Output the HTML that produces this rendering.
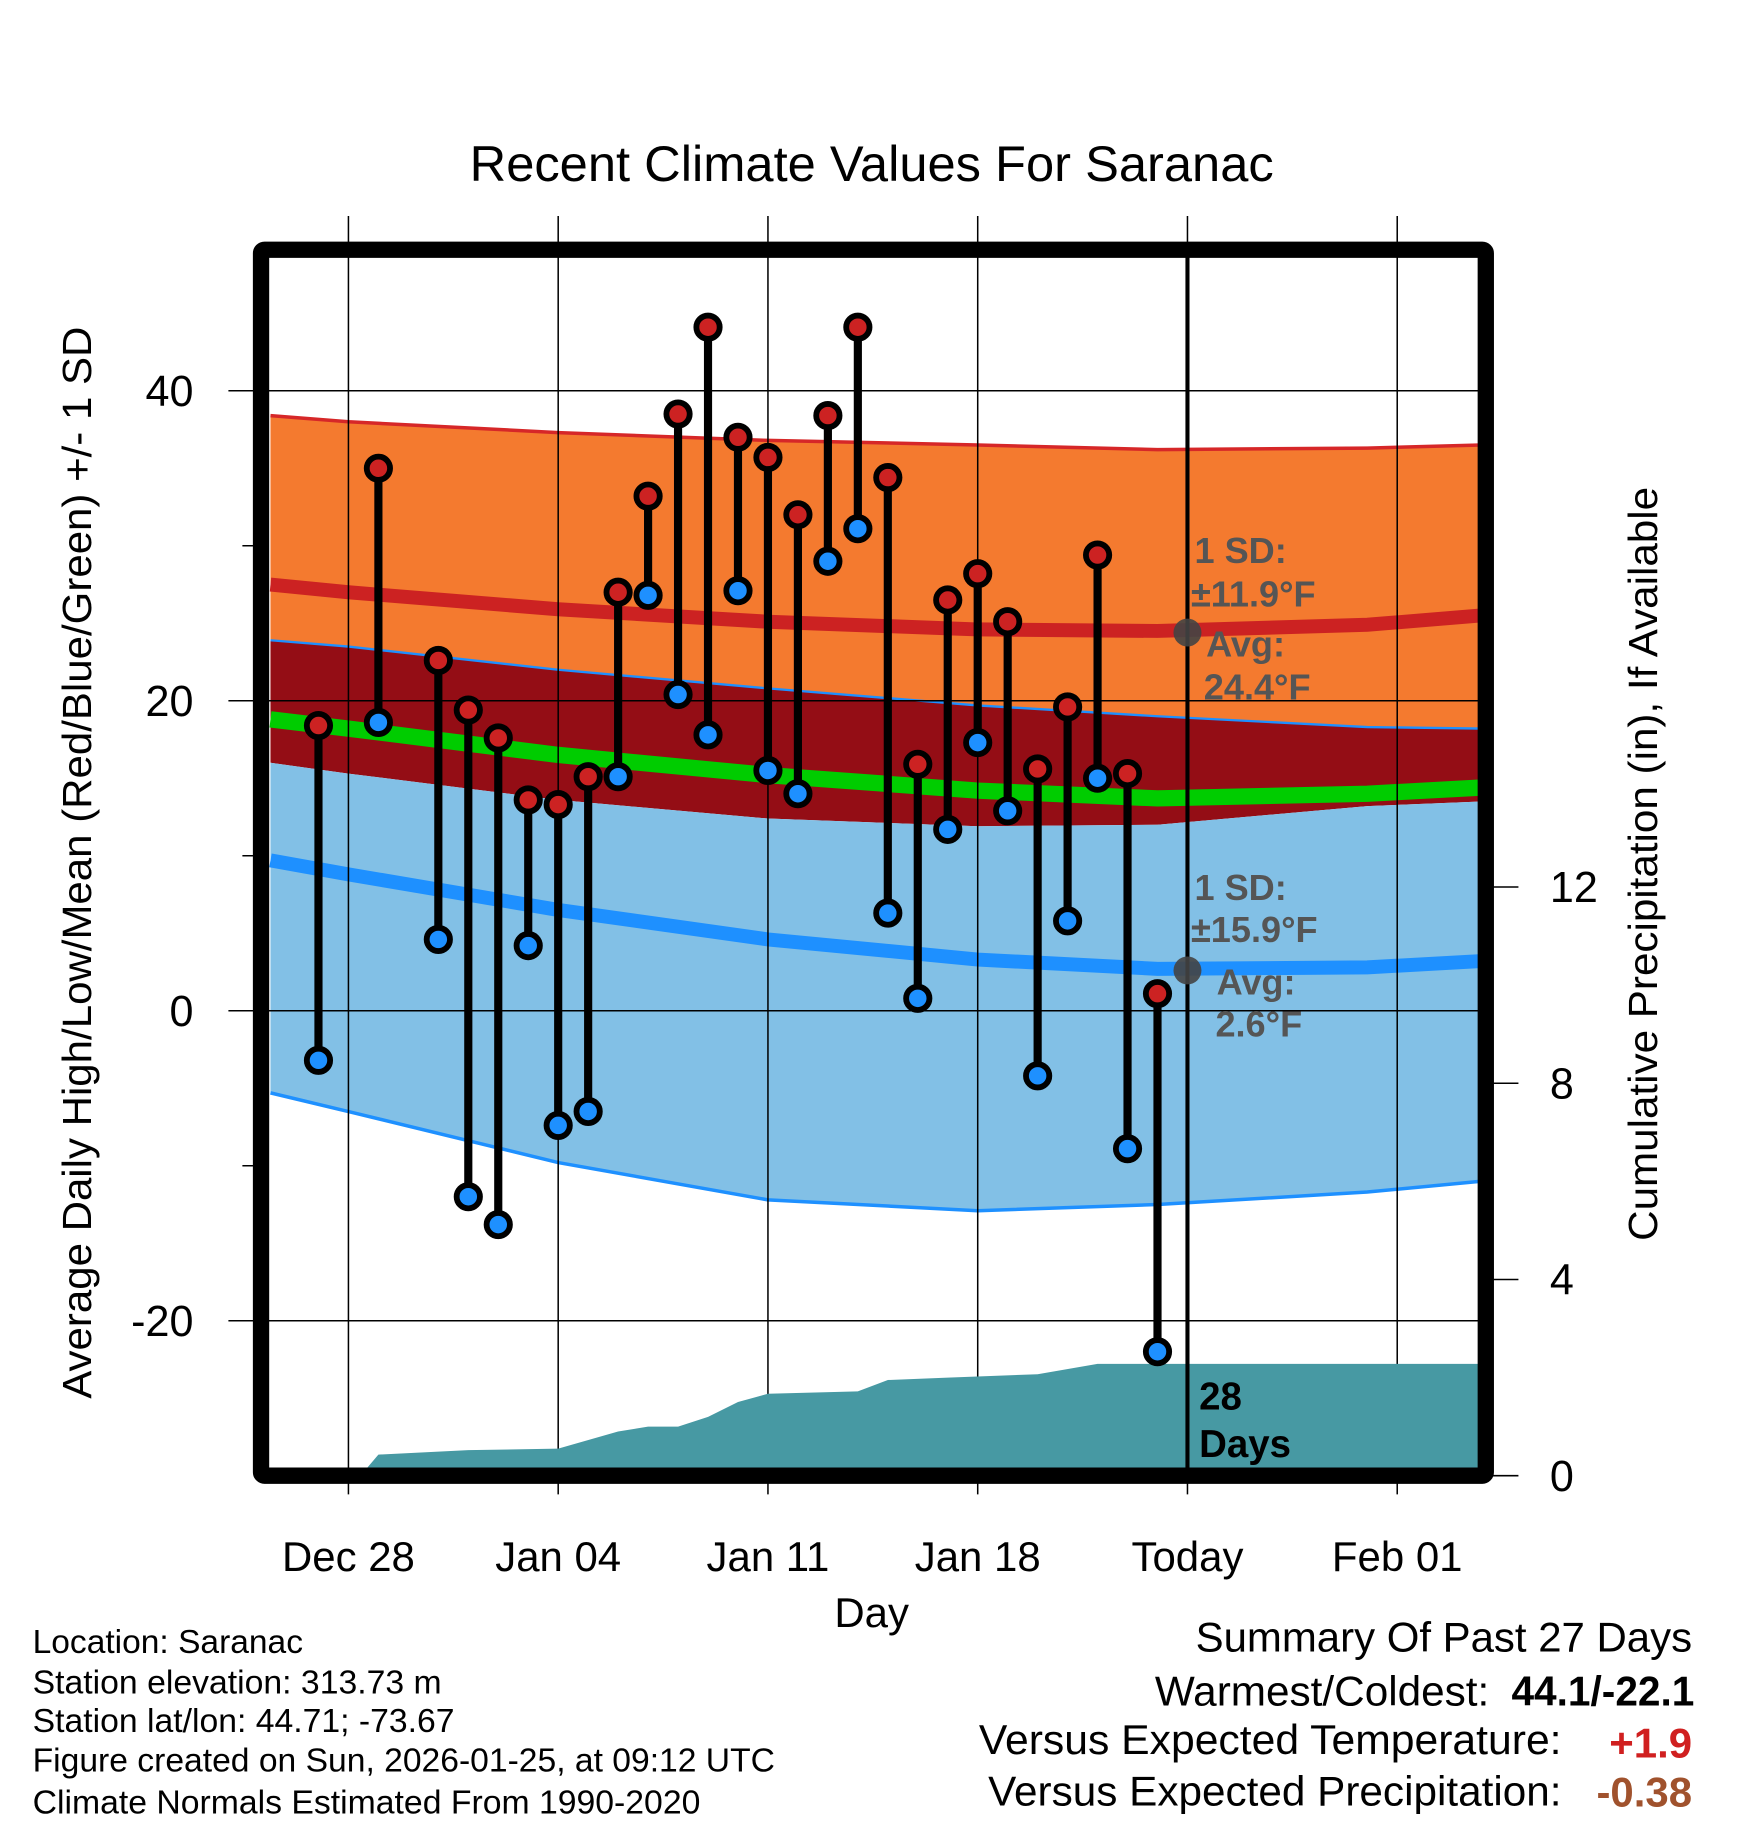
<!DOCTYPE html>
<html><head><meta charset="utf-8"><style>
html,body{margin:0;padding:0;background:#fff}
svg{display:block}
text{font-family:"Liberation Sans",Arial,sans-serif}
</style></head><body>
<svg id="chart" width="1748" height="1828" viewBox="0 0 1500 1568" xmlns="http://www.w3.org/2000/svg">
<defs><clipPath id="plotclip"><rect x="224" y="214" width="1051" height="1052"/></clipPath></defs>
<g id="bands" clip-path="url(#plotclip)"></g>
<g id="grid"></g>
<g id="precip" clip-path="url(#plotclip)"></g>
<g id="marks"></g>
<rect x="224" y="214" width="1051" height="1052" fill="none" stroke="#000" stroke-width="14" rx="3"/>
<text x="748" y="155" font-size="43" text-anchor="middle" textLength="690" lengthAdjust="spacingAndGlyphs">Recent Climate Values For Saranac</text>
<text transform="translate(78,740) rotate(-90)" font-size="35" text-anchor="middle" textLength="920" lengthAdjust="spacingAndGlyphs">Average Daily High/Low/Mean (Red/Blue/Green) +/- 1 SD</text>
<text transform="translate(1422,741) rotate(-90)" font-size="35" text-anchor="middle" textLength="647" lengthAdjust="spacingAndGlyphs">Cumulative Precipitation (in), If Available</text>
<text x="748" y="1396" font-size="36" text-anchor="middle">Day</text>
<g fill="#555" font-weight="bold" font-size="31">
<text x="1025" y="483">1 SD:</text><text x="1022" y="520">±11.9°F</text>
<text x="1035" y="563">Avg:</text><text x="1033" y="600">24.4°F</text></g>
<g fill="#555" font-weight="bold" font-size="31">
<text x="1025" y="772">1 SD:</text><text x="1022" y="808">±15.9°F</text>
<text x="1044" y="853">Avg:</text><text x="1043" y="889">2.6°F</text></g>
<g font-weight="bold" font-size="33">
<text x="1029" y="1209">28</text><text x="1029" y="1250">Days</text></g>
<g font-size="29">
<text x="28" y="1418" textLength="232" lengthAdjust="spacingAndGlyphs">Location: Saranac</text>
<text x="28" y="1453" textLength="351" lengthAdjust="spacingAndGlyphs">Station elevation: 313.73 m</text>
<text x="28" y="1486" textLength="362" lengthAdjust="spacingAndGlyphs">Station lat/lon: 44.71; -73.67</text>
<text x="28" y="1520" textLength="637" lengthAdjust="spacingAndGlyphs">Figure created on Sun, 2026-01-25, at 09:12 UTC</text>
<text x="28" y="1556" textLength="573" lengthAdjust="spacingAndGlyphs">Climate Normals Estimated From 1990-2020</text></g>
<g font-size="36">
<text x="1452" y="1417" text-anchor="end" textLength="426" lengthAdjust="spacingAndGlyphs">Summary Of Past 27 Days</text>
<text x="1278" y="1463" text-anchor="end" textLength="287" lengthAdjust="spacingAndGlyphs">Warmest/Coldest:</text>
<text x="1454" y="1463" text-anchor="end" font-weight="bold" textLength="157" lengthAdjust="spacingAndGlyphs">44.1/-22.1</text>
<text x="1340" y="1505" text-anchor="end" textLength="500" lengthAdjust="spacingAndGlyphs">Versus Expected Temperature:</text>
<text x="1452" y="1508" text-anchor="end" font-weight="bold" fill="#d02020">+1.9</text>
<text x="1340" y="1549" text-anchor="end" textLength="492" lengthAdjust="spacingAndGlyphs">Versus Expected Precipitation:</text>
<text x="1452" y="1550" text-anchor="end" font-weight="bold" fill="#a0522d">-0.38</text></g>
</svg>
<script>
const dayIdx=[-1,1,3,4,5,6,7,8,9,10,11,12,13,14,15,16,17,18,19,20,21,22,23,24,25,26,27];
const highs=[18.4,35.0,22.6,19.4,17.6,13.6,13.3,15.1,27.0,33.2,38.5,44.1,37.0,35.7,32.0,38.4,44.1,34.4,15.9,26.5,28.2,25.1,15.6,19.6,29.4,15.3,1.1];
const lows=[-3.2,18.6,4.6,-12.0,-13.8,4.2,-7.4,-6.5,15.1,26.8,20.4,17.8,27.1,15.5,14.0,29.0,31.1,6.3,0.8,11.7,17.3,12.9,-4.2,5.8,15.0,-8.9,-22.0];
const bandDays=[-2.6,0,7,14,21,27,34,37.8];
const highSDTop=[38.4,38.0,37.3,36.8,36.5,36.2,36.3,36.5];
const avgHigh=[27.5,27.0,25.9,25.1,24.6,24.5,24.9,25.5];
const highSDBottom=[23.9,23.5,22.0,20.8,19.7,19.0,18.3,18.2];
const avgMean=[18.8,18.2,16.5,15.2,14.2,13.7,14.0,14.4];
const lowSDTop=[16.0,15.3,13.6,12.4,11.9,12.0,13.2,13.5];
const avgLow=[9.7,8.8,6.5,4.6,3.3,2.7,2.8,3.2];
const lowSDBottom=[-5.3,-6.5,-9.8,-12.2,-12.9,-12.5,-11.7,-11.0];
const precipDays=[-2.6,0.4,1,4,7,9,10,11,12,13,14,17,18,20,23,25,37.8];
const precipCum=[0,0,0.43,0.52,0.55,0.9,1.0,1.0,1.2,1.5,1.67,1.72,1.95,2.0,2.07,2.28,2.28];
const yTicks=[40,20,0,-20];
const yMinor=[30,10,-10];
const y2Ticks=[0,4,8,12];
const xTickDays=[0,7,14,21,28,35];
const xTickLabels=["Dec 28","Jan 04","Jan 11","Jan 18","Today","Feb 01"];

const NS="http://www.w3.org/2000/svg";
const X=d=>299+d*25.714;
const Y=v=>867-v*13.3;
const Y2=p=>1266-p*42.1;
function mk(tag,attrs,parent){const e=document.createElementNS(NS,tag);for(const k in attrs)e.setAttribute(k,attrs[k]);parent.appendChild(e);return e;}
const bands=document.getElementById('bands'),grid=document.getElementById('grid'),precip=document.getElementById('precip'),marks=document.getElementById('marks'),svg=document.getElementById('chart');
function pts(arr){return bandDays.map((d,i)=>X(d).toFixed(1)+','+Y(arr[i]).toFixed(1));}
function area(top,bot,fill,name){
  const p=pts(top).concat(pts(bot).reverse()).join(' ');
  const e=mk('polygon',{points:p,fill:fill},bands);
  
  
}
function line(arr,col,w,name){
  const e=mk('polyline',{points:pts(arr).join(' '),fill:'none',stroke:col,'stroke-width':w},bands);
  
  
}
area(highSDTop,highSDBottom,'#f47a2f','high-sd-band');
area(highSDBottom,lowSDTop,'#940d15','overlap-band');
area(lowSDTop,lowSDBottom,'#82c0e6','low-sd-band');
line(highSDTop,'#d62728',3,'high-sd-top-line');
line(avgHigh,'#cc2222',12,'avg-high-line');
line(highSDBottom,'#1e90ff',2,'high-sd-bottom-line');
line(avgMean,'#00cc00',14,'avg-mean-line');
line(avgLow,'#1e90ff',12,'avg-low-line');
line(lowSDBottom,'#1e90ff',3,'low-sd-bottom-line');

xTickDays.forEach((d,i)=>{
  const l=mk('line',{x1:X(d),x2:X(d),y1:185,y2:1282,stroke:'#000','stroke-width':1.3},grid);
  
  
  const t=mk('text',{x:X(d),y:1348,'font-size':36,'text-anchor':'middle'},svg);
  t.textContent=xTickLabels[i];
  
  
});
yTicks.forEach(v=>{
  const l=mk('line',{x1:196,x2:1275,y1:Y(v),y2:Y(v),stroke:'#000','stroke-width':1.3},grid);
  
  
  const t=mk('text',{x:166,y:Y(v)+13,'font-size':37,'text-anchor':'end'},svg);
  t.textContent=v;
  
  
});
yMinor.forEach(v=>{
  const l=mk('line',{x1:208,x2:224,y1:Y(v),y2:Y(v),stroke:'#000','stroke-width':1.3},grid);
  
  
});
y2Ticks.forEach(p=>{
  const l=mk('line',{x1:1275,x2:1303,y1:Y2(p),y2:Y2(p),stroke:'#000','stroke-width':1.3},grid);
  
  
  const t=mk('text',{x:1330,y:Y2(p)+13,'font-size':37,'text-anchor':'start'},svg);
  t.textContent=p;
  
  
});
{
  let p=precipDays.map((d,i)=>X(d).toFixed(1)+','+Y2(precipCum[i]).toFixed(1));
  p.push(X(precipDays[precipDays.length-1]).toFixed(1)+',1270');
  p.push(X(precipDays[0]).toFixed(1)+',1270');
  const e=mk('polygon',{points:p.join(' '),fill:'#4799a3'},precip);
  
  
}
{
  const e=mk('line',{x1:X(28),x2:X(28),y1:215,y2:1262,stroke:'#000','stroke-width':3.5},marks);
  
  
}
dayIdx.forEach((d,i)=>{
  const s=mk('line',{x1:X(d),x2:X(d),y1:Y(highs[i]),y2:Y(lows[i]),stroke:'#000','stroke-width':7},marks);
  
  
});
dayIdx.forEach((d,i)=>{
  const h=mk('circle',{cx:X(d),cy:Y(highs[i]),r:10,fill:'#cc2222',stroke:'#000','stroke-width':5},marks);
  
  
  const l=mk('circle',{cx:X(d),cy:Y(lows[i]),r:10,fill:'#1e90ff',stroke:'#000','stroke-width':5},marks);
  
  
});
[24.4,2.6].forEach((v,k)=>{
  const c=mk('circle',{cx:X(28),cy:Y(v),r:12,fill:'#444','fill-opacity':0.9},marks);
  
  
});
</script>
</body></html>
